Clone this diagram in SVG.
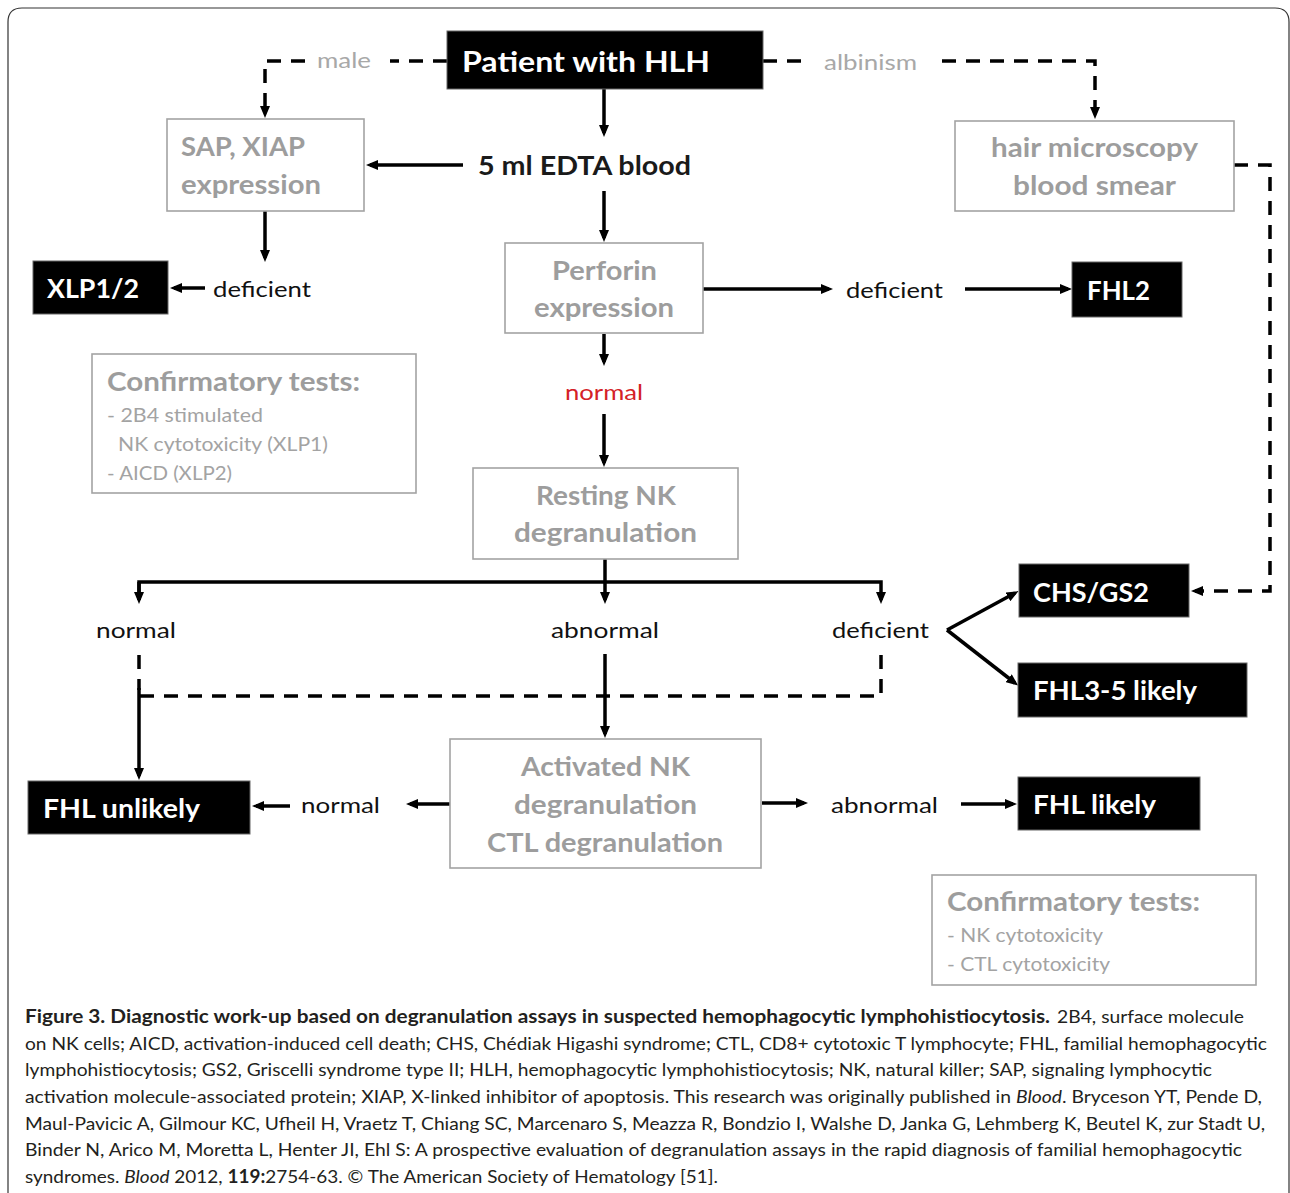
<svg xmlns="http://www.w3.org/2000/svg" width="1290" height="1193" viewBox="0 0 1290 1193">
<defs>
<marker id="ah" viewBox="0 0 12 10" markerWidth="12" markerHeight="10" refX="8" refY="5" orient="auto" markerUnits="userSpaceOnUse">
<path d="M0,0 L12,5 L0,10 z" fill="#000"/>
</marker>
<style>
.frame{fill:none;stroke:#333;stroke-width:1.2}
.blk{fill:#000;stroke:#666;stroke-width:1}
.gbox{fill:#fff;stroke:#a3a3a3;stroke-width:1.6}
.wt{font-family:Lato,"Liberation Sans",sans-serif;font-weight:bold;font-size:26px;fill:#fff}
.gt{font-family:Lato,"Liberation Sans",sans-serif;font-weight:bold;font-size:26px;fill:#9d9d9d}
.bt{font-family:Lato,"Liberation Sans",sans-serif;font-weight:bold;font-size:26px;fill:#1a1a1a}
.lbl{font-family:Lato,"Liberation Sans",sans-serif;font-size:22px;fill:#111}
.glbl{font-family:Lato,"Liberation Sans",sans-serif;font-size:22px;fill:#a8a8a8}
.red{font-family:Lato,"Liberation Sans",sans-serif;font-size:22px;fill:#d42127}
.gi{font-family:Lato,"Liberation Sans",sans-serif;font-size:19px;fill:#a3a3a3}
.cap{font-family:"Liberation Sans Narrow",Lato,"Liberation Sans",sans-serif;font-size:18px;fill:#231f20}
.capb{font-family:"Liberation Sans Narrow",Lato,"Liberation Sans",sans-serif;font-size:18px;font-weight:bold;fill:#231f20}
.c{text-anchor:middle}
.sl{fill:none;stroke:#000;stroke-width:3.5}
.dl{fill:none;stroke:#000;stroke-width:3.5;stroke-dasharray:14 10}
</style>
</defs>
<path class="frame" d="M8 1193 V22 Q8 8 22 8 H1275 Q1289 8 1289 22 V1193"/>

<g id="connectors">
<path class="sl" d="M604 89 V133" marker-end="url(#ah)"/>
<path class="sl" d="M463 165 H370" marker-end="url(#ah)"/>
<path class="sl" d="M604 191 V238" marker-end="url(#ah)"/>
<path class="sl" d="M265 211 V258" marker-end="url(#ah)"/>
<path class="sl" d="M205 288 H174" marker-end="url(#ah)"/>
<path class="sl" d="M703 289 H829" marker-end="url(#ah)"/>
<path class="sl" d="M965 289 H1068" marker-end="url(#ah)"/>
<path class="sl" d="M604 334 V362" marker-end="url(#ah)"/>
<path class="sl" d="M604 414 V463" marker-end="url(#ah)"/>
<path class="sl" d="M605 559 V582"/>
<path class="sl" d="M139 600 V582 H881 V600" marker-end="url(#ah)"/>
<path class="sl" d="M139 582 V600" marker-end="url(#ah)"/>
<path class="sl" d="M605 582 V600" marker-end="url(#ah)"/>
<path class="sl" d="M605 654 V734" marker-end="url(#ah)"/>
<path class="sl" d="M139 688 V776" marker-end="url(#ah)"/>
<path class="sl" d="M450 804 H410" marker-end="url(#ah)"/>
<path class="sl" d="M290 806 H256" marker-end="url(#ah)"/>
<path class="sl" d="M762 803 H804" marker-end="url(#ah)"/>
<path class="sl" d="M961 804 H1013" marker-end="url(#ah)"/>
<path class="sl" d="M947 630 L1015 593" marker-end="url(#ah)"/>
<path class="sl" d="M947 630 L1015 683" marker-end="url(#ah)"/>
<path class="dl" d="M447 61 H390"/>
<path class="dl" d="M305 61 H265 V114" marker-end="url(#ah)"/>
<path class="dl" d="M763 61 H808"/>
<path class="dl" d="M942 61 H1095 V115" marker-end="url(#ah)"/>
<path class="dl" d="M1234 165 H1270 V591 H1195" marker-end="url(#ah)"/>
<path class="dl" d="M881 655 V696 H139"/>
<path class="dl" d="M139 655 V690"/>
</g>

<g id="patient">
<rect class="blk" x="447" y="31" width="316" height="58"/>
<text class="wt" x="462" y="72" style="font-size:28px" textLength="248" lengthAdjust="spacingAndGlyphs">Patient with HLH</text>
</g>
<g id="label-male"><text class="glbl" x="317" y="68" textLength="54" lengthAdjust="spacingAndGlyphs">male</text></g>
<g id="label-albinism"><text class="glbl" x="824" y="70" textLength="93" lengthAdjust="spacingAndGlyphs">albinism</text></g>

<g id="edta">
<text class="bt" x="478" y="175" textLength="213" lengthAdjust="spacingAndGlyphs">5 ml EDTA blood</text>
</g>

<g id="sap-xiap">
<rect class="gbox" x="167" y="119" width="197" height="92"/>
<text class="gt" x="181" y="156" textLength="124" lengthAdjust="spacingAndGlyphs">SAP, XIAP</text>
<text class="gt" x="181" y="194" textLength="140" lengthAdjust="spacingAndGlyphs">expression</text>
</g>

<g id="hair">
<rect class="gbox" x="955" y="121" width="279" height="90"/>
<text class="gt" x="991" y="157" textLength="207" lengthAdjust="spacingAndGlyphs">hair microscopy</text>
<text class="gt" x="1013" y="195" textLength="163" lengthAdjust="spacingAndGlyphs">blood smear</text>
</g>

<g id="deficient-sap"><text class="lbl" x="213" y="297" textLength="98" lengthAdjust="spacingAndGlyphs">deficient</text></g>
<g id="xlp">
<rect class="blk" x="33" y="261" width="135" height="53"/>
<text class="wt" x="47" y="298" textLength="92" lengthAdjust="spacingAndGlyphs">XLP1/2</text>
</g>

<g id="perforin">
<rect class="gbox" x="505" y="243" width="198" height="90"/>
<text class="gt" x="552" y="280" textLength="105" lengthAdjust="spacingAndGlyphs">Perforin</text>
<text class="gt" x="534" y="317" textLength="140" lengthAdjust="spacingAndGlyphs">expression</text>
</g>

<g id="deficient-perforin"><text class="lbl" x="846" y="298" textLength="97" lengthAdjust="spacingAndGlyphs">deficient</text></g>
<g id="fhl2">
<rect class="blk" x="1072" y="262" width="110" height="55"/>
<text class="wt" x="1087" y="300" textLength="63" lengthAdjust="spacingAndGlyphs">FHL2</text>
</g>

<g id="normal-perforin"><text class="red" x="565" y="400" textLength="78" lengthAdjust="spacingAndGlyphs">normal</text></g>

<g id="confirm-left">
<rect class="gbox" x="92" y="354" width="324" height="139"/>
<text class="gt" x="107" y="391" textLength="253" lengthAdjust="spacingAndGlyphs">Confirmatory tests:</text>
<text class="gi" x="107" y="422" textLength="156" lengthAdjust="spacingAndGlyphs">- 2B4 stimulated</text>
<text class="gi" x="118" y="451" textLength="210" lengthAdjust="spacingAndGlyphs">NK cytotoxicity (XLP1)</text>
<text class="gi" x="107" y="480" textLength="125" lengthAdjust="spacingAndGlyphs">- AICD (XLP2)</text>
</g>

<g id="resting">
<rect class="gbox" x="473" y="468" width="265" height="91"/>
<text class="gt" x="536" y="505" textLength="140" lengthAdjust="spacingAndGlyphs">Resting NK</text>
<text class="gt" x="514" y="542" textLength="183" lengthAdjust="spacingAndGlyphs">degranulation</text>
</g>

<g id="normal-resting"><text class="lbl" x="96" y="638" textLength="80" lengthAdjust="spacingAndGlyphs">normal</text></g>
<g id="abnormal-resting"><text class="lbl" x="551" y="638" textLength="108" lengthAdjust="spacingAndGlyphs">abnormal</text></g>
<g id="deficient-resting"><text class="lbl" x="832" y="638" textLength="97" lengthAdjust="spacingAndGlyphs">deficient</text></g>

<g id="chs">
<rect class="blk" x="1019" y="564" width="170" height="53"/>
<text class="wt" x="1033" y="602" textLength="116" lengthAdjust="spacingAndGlyphs">CHS/GS2</text>
</g>
<g id="fhl35">
<rect class="blk" x="1018" y="663" width="229" height="54"/>
<text class="wt" x="1033" y="700" textLength="164" lengthAdjust="spacingAndGlyphs">FHL3-5 likely</text>
</g>

<g id="activated">
<rect class="gbox" x="450" y="739" width="311" height="129"/>
<text class="gt" x="521" y="776" textLength="169" lengthAdjust="spacingAndGlyphs">Activated NK</text>
<text class="gt" x="514" y="814" textLength="183" lengthAdjust="spacingAndGlyphs">degranulation</text>
<text class="gt" x="487" y="852" textLength="236" lengthAdjust="spacingAndGlyphs">CTL degranulation</text>
</g>

<g id="normal-activated"><text class="lbl" x="301" y="813" textLength="79" lengthAdjust="spacingAndGlyphs">normal</text></g>
<g id="abnormal-activated"><text class="lbl" x="831" y="813" textLength="107" lengthAdjust="spacingAndGlyphs">abnormal</text></g>

<g id="fhl-unlikely">
<rect class="blk" x="28" y="781" width="222" height="53"/>
<text class="wt" x="43" y="818" textLength="157" lengthAdjust="spacingAndGlyphs">FHL unlikely</text>
</g>
<g id="fhl-likely">
<rect class="blk" x="1018" y="777" width="182" height="53"/>
<text class="wt" x="1033" y="814" textLength="123" lengthAdjust="spacingAndGlyphs">FHL likely</text>
</g>

<g id="confirm-right">
<rect class="gbox" x="932" y="875" width="324" height="110"/>
<text class="gt" x="947" y="911" textLength="253" lengthAdjust="spacingAndGlyphs">Confirmatory tests:</text>
<text class="gi" x="947" y="942" textLength="156" lengthAdjust="spacingAndGlyphs">- NK cytotoxicity</text>
<text class="gi" x="947" y="971" textLength="163" lengthAdjust="spacingAndGlyphs">- CTL cytotoxicity</text>
</g>

<g id="caption">
<text class="capb" x="25" y="1023" textLength="1025" lengthAdjust="spacingAndGlyphs">Figure 3. Diagnostic work-up based on degranulation assays in suspected hemophagocytic lymphohistiocytosis.</text>
<text class="cap" x="1057" y="1023" textLength="187" lengthAdjust="spacingAndGlyphs">2B4, surface molecule</text>
<text class="cap" x="25" y="1050" textLength="1242" lengthAdjust="spacingAndGlyphs">on NK cells; AICD, activation-induced cell death; CHS, Chédiak Higashi syndrome; CTL, CD8+ cytotoxic T lymphocyte; FHL, familial hemophagocytic</text>
<text class="cap" x="25" y="1076" textLength="1187" lengthAdjust="spacingAndGlyphs">lymphohistiocytosis; GS2, Griscelli syndrome type II; HLH, hemophagocytic lymphohistiocytosis; NK, natural killer; SAP, signaling lymphocytic</text>
<text class="cap" x="25" y="1103" textLength="1237" lengthAdjust="spacingAndGlyphs">activation molecule-associated protein; XIAP, X-linked inhibitor of apoptosis.  This research was originally published in <tspan font-style="italic">Blood</tspan>. Bryceson YT, Pende D,</text>
<text class="cap" x="25" y="1130" textLength="1240" lengthAdjust="spacingAndGlyphs">Maul-Pavicic A, Gilmour KC, Ufheil H, Vraetz T, Chiang SC, Marcenaro S, Meazza R, Bondzio I, Walshe D, Janka G, Lehmberg K, Beutel K, zur Stadt U,</text>
<text class="cap" x="25" y="1156" textLength="1217" lengthAdjust="spacingAndGlyphs">Binder N, Arico M, Moretta L, Henter JI, Ehl S: A prospective evaluation of degranulation assays in the rapid diagnosis of familial hemophagocytic</text>
<text class="cap" x="25" y="1183" textLength="693" lengthAdjust="spacingAndGlyphs">syndromes. <tspan font-style="italic">Blood</tspan> 2012, <tspan font-weight="bold">119:</tspan>2754-63. © The American Society of Hematology [51].</text>
</g>
</svg>
